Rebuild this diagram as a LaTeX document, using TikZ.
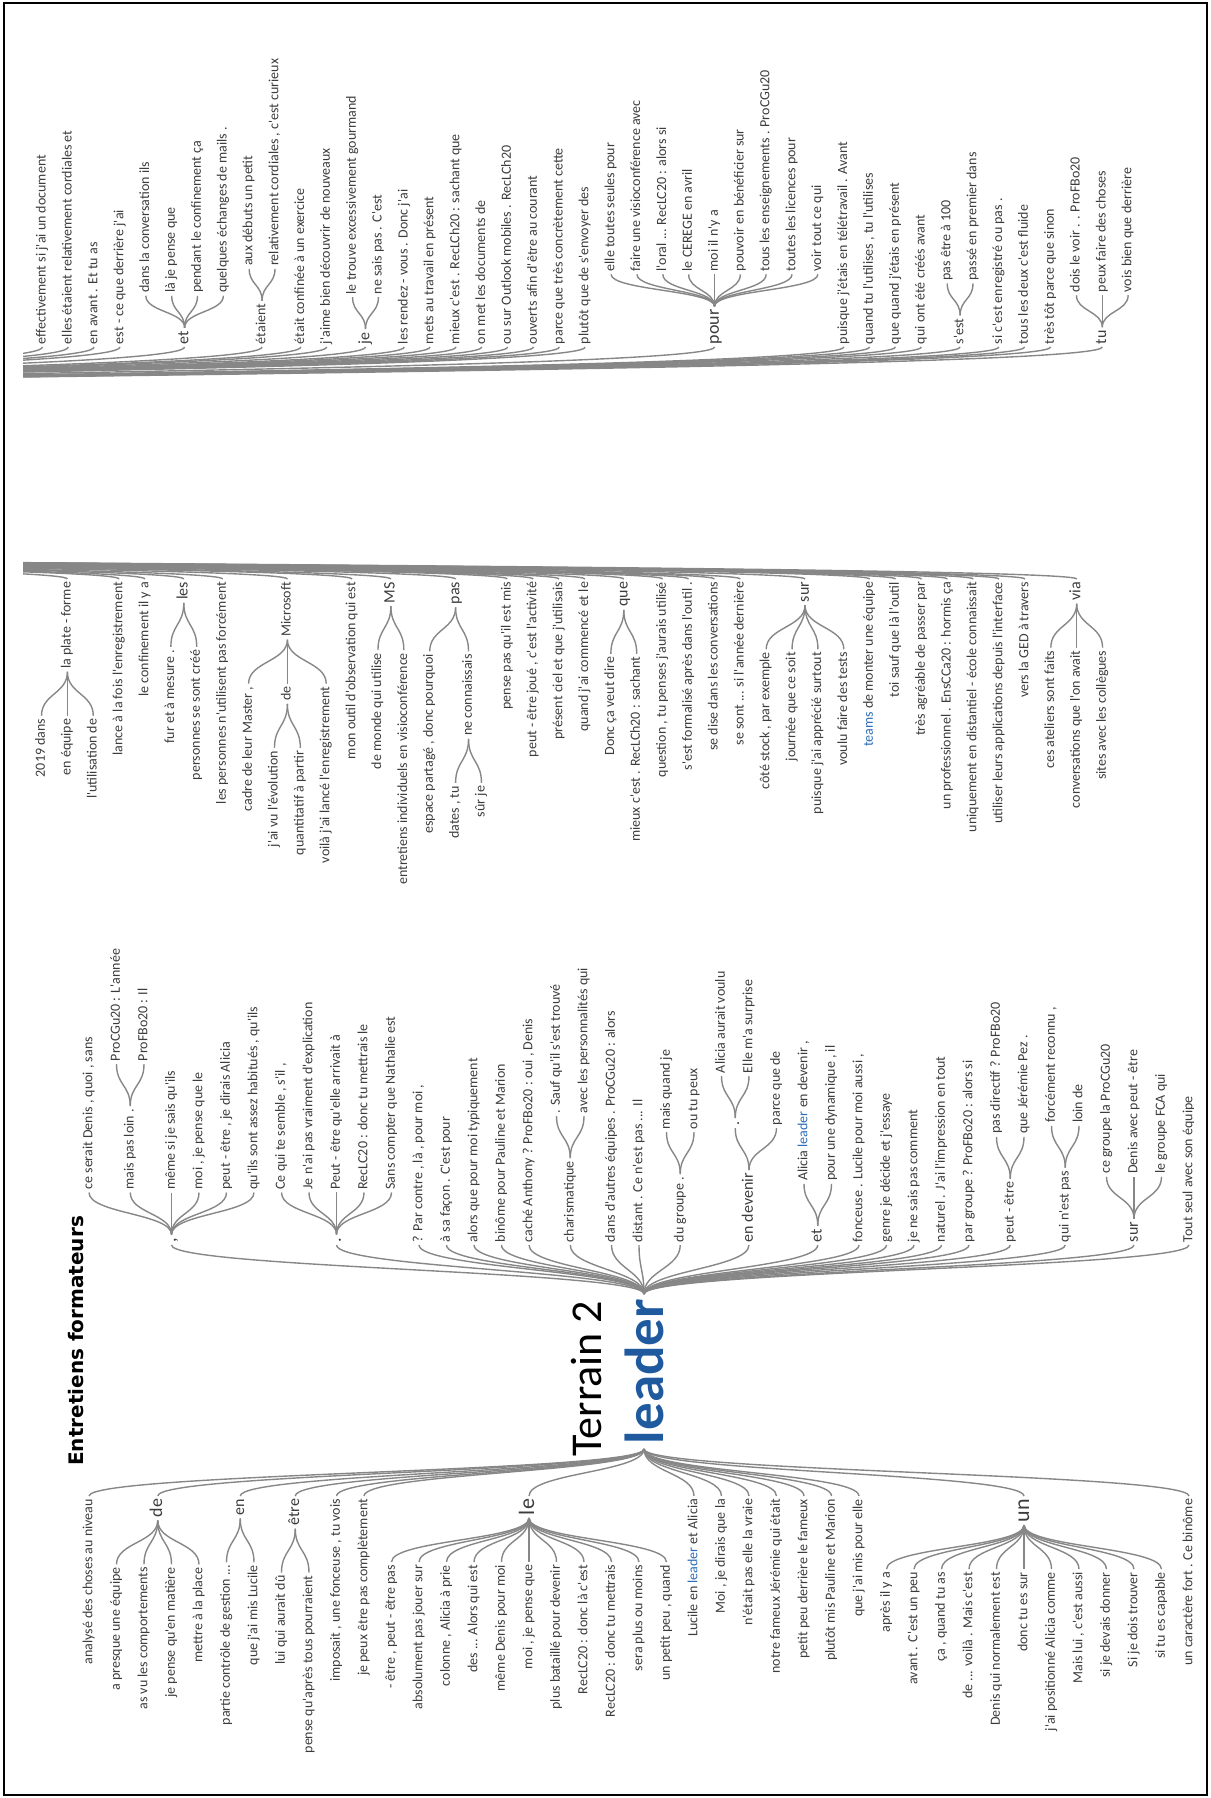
\documentclass[tikz,border=0pt]{standalone}
\usepackage{fontspec}
\setmainfont{Carlito}
\newfontfamily\lblf{Carlito}
\newfontfamily\ttlf{DejaVu Sans}
\definecolor{tgray}{RGB}{60,60,60}
\definecolor{lgray}{RGB}{135,135,135}
\definecolor{ldblue}{RGB}{31,90,158}
\definecolor{inblue}{RGB}{46,110,184}
\newcommand\bl[1]{\textcolor{inblue}{#1}}
\tikzset{
 lk/.style={draw=lgray, line width=1.4pt},
 lb/.style={rotate=90, inner sep=1pt, outer sep=2pt, text=tgray, font=\lblf\fontsize{14}{16}\selectfont, text height=9.5pt, text depth=3pt},
 lbm/.style={lb, font=\lblf\fontsize{16}{18}\selectfont, text height=11pt, text depth=3.5pt},
 lbb/.style={lb, font=\lblf\fontsize{18}{20}\selectfont, text height=12.5pt, text depth=4pt},
 lbx/.style={lb, font=\lblf\fontsize{22}{24}\selectfont, text height=15pt, text depth=5pt},
}
% child upward (right context): style, name, dx, parent, text
\newcommand\kidup[5]{\node[#1,anchor=west] (#2) at ([shift={(#3,-\kg)}]#4.east) {#5};
 \draw[lk] (#4.east) .. controls +(0,-\kh) and +(0,\kh) .. (#2.west);}
% child downward (left context)
\newcommand\kiddn[5]{\node[#1,anchor=east] (#2) at ([shift={(#3,\kg)}]#4.west) {#5};
 \draw[lk] (#4.west) .. controls +(0,\kh) and +(0,-\kh) .. (#2.east);}
% first level nodes of each column
\newcommand\cfour[4]{\node[#1,anchor=west] (#2) at (#3,347) {#4};
 \draw[lk] (RF) .. controls +(0,-31) and +(0,31) .. (#2.west);}
\newcommand\cthree[4]{\node[#1,anchor=east] (#2) at (#3,579) {#4};
 \draw[lk] (RT) .. controls +(0,17) and +(0,-17) .. (#2.east);}
\newcommand\ctwo[4]{\node[#1,anchor=west] (#2) at (#3,1245) {#4};
 \draw[lk] (L.east) .. controls +(0,-23) and +(0,23) .. (#2.west);}
\newcommand\cone[4]{\node[#1,anchor=east] (#2) at (#3,1496) {#4};
 \draw[lk] (L.west) .. controls +(0,23) and +(0,-23) .. (#2.east);}
\begin{document}
\begin{tikzpicture}[x=1pt,y=-1pt]
\useasboundingbox (0,0) rectangle (1210,1798);
\begin{scope}
\clip (23,5) rectangle (1193,1793);
\coordinate (RF) at (-1200,409);
\coordinate (RT) at (-1200,545);
% ================= column 4 (top) =================
\def\kg{32}\def\kh{16}
\cfour{lb}{d1}{42.4}{effectivement si j'ai un document}
\cfour{lb}{d2}{68.3}{elles étaient relativement cordiales et}
\cfour{lb}{d3}{94.1}{en avant . Et tu as}
\cfour{lb}{d4}{120}{est - ce que derrière j'ai}
\cfour{lbm}{det}{184.6}{et}
\kidup{lb}{det1}{-38.8}{det}{dans la conversation ils}
\kidup{lb}{det2}{-12.9}{det}{là je pense que}
\kidup{lb}{det3}{12.9}{det}{pendant le confinement ça}
\kidup{lb}{det4}{38.8}{det}{quelques échanges de mails .}
\cfour{lb}{detai}{262.1}{étaient}
\kidup{lb}{detai1}{-12.9}{detai}{aux débuts un petit}
\kidup{lb}{detai2}{12.9}{detai}{relativement cordiales , c'est curieux}
\cfour{lb}{d11}{300.9}{était confinée à un exercice}
\cfour{lb}{d12}{326.7}{j'aime bien découvrir de nouveaux}
\cfour{lbm}{dje}{365.5}{je}
\kidup{lb}{dje1}{-12.9}{dje}{le trouve excessivement gourmand}
\kidup{lb}{dje2}{12.9}{dje}{ne sais pas . C'est}
\cfour{lb}{d15}{404.3}{les rendez - vous . Donc j'ai}
\cfour{lb}{d16}{430.1}{mets au travail en présent}
\cfour{lb}{d17}{456}{mieux c'est . RecLCh20 : sachant que}
\cfour{lb}{d18}{481.8}{on met les documents de}
\cfour{lb}{d19}{507.7}{ou sur Outlook mobiles . RecLCh20}
\cfour{lb}{d20}{533.5}{ouverts afin d'être au courant}
\cfour{lb}{d21}{559.4}{parce que très concrètement cette}
\cfour{lb}{d22}{585.2}{plutôt que de s'envoyer des}
\cfour{lbb}{dpour}{714.5}{pour}
\kidup{lb}{dp1}{-103.4}{dpour}{elle toutes seules pour}
\kidup{lb}{dp2}{-77.55}{dpour}{faire une visioconférence avec}
\kidup{lb}{dp3}{-51.7}{dpour}{l'oral ... RecLC20 : alors si}
\kidup{lb}{dp4}{-25.85}{dpour}{le CEREGE en avril}
\kidup{lb}{dp5}{0}{dpour}{moi il n'y a}
\kidup{lb}{dp6}{25.85}{dpour}{pouvoir en bénéficier sur}
\kidup{lb}{dp7}{51.7}{dpour}{tous les enseignements . ProCGu20}
\kidup{lb}{dp8}{77.55}{dpour}{toutes les licences pour}
\kidup{lb}{dp9}{103.4}{dpour}{voir tout ce qui}
\cfour{lb}{d32}{843.8}{puisque j'étais en télétravail . Avant}
\cfour{lb}{d33}{869.7}{quand tu l'utilises , tu l'utilises}
\cfour{lb}{d34}{895.5}{que quand j'étais en présent}
\cfour{lb}{d35}{921.4}{qui ont été créés avant}
\cfour{lb}{dest}{960.1}{s'est}
\kidup{lb}{dest1}{-12.9}{dest}{pas être à 100}
\kidup{lb}{dest2}{12.9}{dest}{passé en premier dans}
\cfour{lb}{d38}{998.9}{si c'est enregistré ou pas .}
\cfour{lb}{d39}{1024.7}{tous les deux c'est fluide}
\cfour{lb}{d40}{1050.6}{très tôt parce que sinon}
\cfour{lbm}{dtu}{1102.3}{tu}
\kidup{lb}{dtu1}{-25.85}{dtu}{dois le voir . . ProFBo20}
\kidup{lb}{dtu2}{0}{dtu}{peux faire des choses}
\kidup{lb}{dtu3}{25.85}{dtu}{vois bien que derrière}
% ================= column 3 =================
\def\kg{44}\def\kh{22}
\cthree{lb}{cpf}{67.4}{la plate - forme}
\kiddn{lb}{cpf1}{-25.88}{cpf}{2019 dans}
\kiddn{lb}{cpf2}{0}{cpf}{en équipe}
\kiddn{lb}{cpf3}{25.88}{cpf}{l'utilisation de}
\cthree{lb}{c4}{119.1}{lance à la fois l'enregistrement}
\cthree{lb}{c5}{145}{le confinement il y a}
\cthree{lbm}{cles}{183.8}{les}
\kiddn{lb}{cles1}{-12.94}{cles}{fur et à mesure .}
\kiddn{lb}{cles2}{12.94}{cles}{personnes se sont créé}
\cthree{lb}{c8}{222.7}{les personnes n'utilisent pas forcément}
\cthree{lb}{cms}{287.4}{Microsoft}
\kiddn{lb}{cms1}{-38.82}{cms}{cadre de leur Master ,}
\kiddn{lb}{cde}{0}{cms}{de}
\kiddn{lb}{cde1}{-12.94}{cde}{j'ai vu l'évolution}
\kiddn{lb}{cde2}{12.94}{cde}{quantitatif à partir}
\kiddn{lb}{cms3}{38.82}{cms}{voilà j'ai lancé l'enregistrement}
\cthree{lb}{c13}{352.1}{mon outil d'observation qui est}
\cthree{lbm}{cMS}{390.9}{MS}
\kiddn{lb}{cMS1}{-12.94}{cMS}{de monde qui utilise}
\kiddn{lb}{cMS2}{12.94}{cMS}{entretiens individuels en visioconférence}
\cthree{lbm}{cpas}{455.6}{pas}
\kiddn{lb}{cpas1}{-25.88}{cpas}{espace partagé , donc pourquoi}
\kiddn{lb}{cnc}{12.94}{cpas}{ne connaissais}
\kiddn{lb}{cnc1}{-12.94}{cnc}{dates , tu}
\kiddn{lb}{cnc2}{12.94}{cnc}{sûr je}
\cthree{lb}{c19}{507.3}{pense pas qu'il est mis}
\cthree{lb}{c20}{533.2}{peut - être joué , c'est l'activité}
\cthree{lb}{c21}{559.1}{présent ciel et que j'utilisais}
\cthree{lb}{c22}{584.9}{quand j'ai commencé et le}
\cthree{lbm}{cque}{623.8}{que}
\kiddn{lb}{cque1}{-12.94}{cque}{Donc ça veut dire}
\kiddn{lb}{cque2}{12.94}{cque}{mieux c'est . RecLCh20 : sachant}
\cthree{lb}{c25}{662.6}{question , tu penses j'aurais utilisé}
\cthree{lb}{c26}{688.5}{s'est formalisé après dans l'outil .}
\cthree{lb}{c27}{714.4}{se dise dans les conversations}
\cthree{lb}{c28}{740.3}{se sont ... si l'année dernière}
\cthree{lbm}{csur}{805}{sur}
\kiddn{lb}{csur1}{-38.82}{csur}{côté stock , par exemple}
\kiddn{lb}{csur2}{-12.94}{csur}{journée que ce soit}
\kiddn{lb}{csur3}{12.94}{csur}{puisque j'ai apprécié surtout}
\kiddn{lb}{csur4}{38.82}{csur}{voulu faire des tests}
\cthree{lb}{c33}{869.7}{\bl{teams} de monter une équipe}
\cthree{lb}{c34}{895.6}{toi sauf que là l'outil}
\cthree{lb}{c35}{921.5}{très agréable de passer par}
\cthree{lb}{c36}{947.4}{un professionnel . EnsCCa20 : hormis ça}
\cthree{lb}{c37}{973.2}{uniquement en distantiel - école connaissait}
\cthree{lb}{c38}{999.1}{utiliser leurs applications depuis l'interface}
\cthree{lb}{c39}{1025}{vers la GED à travers}
\cthree{lbm}{cvia}{1076.7}{via}
\kiddn{lb}{cvia1}{-25.88}{cvia}{ces ateliers sont faits}
\kiddn{lb}{cvia2}{0}{cvia}{conversations que l'on avait}
\kiddn{lb}{cvia3}{25.88}{cvia}{sites avec les collègues}
% ================= leader =================
\node[rotate=90, inner sep=2pt, outer sep=3pt, text=ldblue, font=\lblf\bfseries\fontsize{55}{60}\selectfont] (L) at (644,1371.5) {leader};
\node[rotate=90, anchor=west, inner sep=0pt, text=black, font=\lblf\fontsize{44}{48}\selectfont] (T2) at (587,1457) {Terrain 2};
\node[rotate=90, anchor=west, inner sep=0pt, text=black, font=\ttlf\bfseries\fontsize{20}{22}\selectfont] (ttl) at (76,1466) {Entretiens formateurs};
% ================= column 2 =================
\def\kg{42}\def\kh{21}
\ctwo{lbb}{bc}{171.5}{,}
\kidup{lb}{bc1}{-82.5}{bc}{ce serait Denis , quoi , sans}
\kidup{lb}{bmpl}{-41.25}{bc}{mais pas loin .}
\kidup{lb}{bmpl1}{-13.75}{bmpl}{ProCGu20 : L'année}
\kidup{lb}{bmpl2}{13.75}{bmpl}{ProFBo20 : Il}
\kidup{lb}{bc3}{0}{bc}{même si je sais qu'ils}
\kidup{lb}{bc4}{27.5}{bc}{moi , je pense que le}
\kidup{lb}{bc5}{55}{bc}{peut - être , je dirais Alicia}
\kidup{lb}{bc6}{82.5}{bc}{qu'ils sont assez habitués , qu'ils}
\ctwo{lbb}{bp}{336.5}{.}
\kidup{lb}{bp1}{-55}{bp}{Ce qui te semble , s'il ,}
\kidup{lb}{bp2}{-27.5}{bp}{Je n'ai pas vraiment d'explication}
\kidup{lb}{bp3}{0}{bp}{Peut - être qu'elle arrivait à}
\kidup{lb}{bp4}{27.5}{bp}{RecLC20 : donc tu mettrais le}
\kidup{lb}{bp5}{55}{bp}{Sans compter que Nathalie est}
\ctwo{lb}{b13}{419}{? Par contre , là , pour moi ,}
\ctwo{lb}{b14}{446.5}{à sa façon . C'est pour}
\ctwo{lb}{b15}{474}{alors que pour moi typiquement}
\ctwo{lb}{b16}{501.5}{binôme pour Pauline et Marion}
\ctwo{lb}{b17}{529}{caché Anthony ? ProFBo20 : oui , Denis}
\ctwo{lb}{bch}{570.25}{charismatique}
\kidup{lb}{bch1}{-13.75}{bch}{. Sauf qu'il s'est trouvé}
\kidup{lb}{bch2}{13.75}{bch}{avec les personnalités qui}
\ctwo{lb}{b20}{611.5}{dans d'autres équipes . ProCGu20 : alors}
\ctwo{lb}{b21}{639}{distant . Ce n'est pas ... Il}
\ctwo{lb}{bdg}{680.25}{du groupe .}
\kidup{lb}{bdg1}{-13.75}{bdg}{mais quand je}
\kidup{lb}{bdg2}{13.75}{bdg}{ou tu peux}
\ctwo{lbm}{bed}{749}{en devenir}
\kidup{lbm}{bedp}{-13.75}{bed}{.}
\kidup{lb}{bedp1}{-13.75}{bedp}{Alicia aurait voulu}
\kidup{lb}{bedp2}{13.75}{bedp}{Elle m'a surprise}
\kidup{lb}{bed2}{27.5}{bed}{parce que de}
\ctwo{lbm}{bet}{817.75}{et}
\kidup{lb}{bet1}{-13.75}{bet}{Alicia \bl{leader} en devenir ,}
\kidup{lb}{bet2}{13.75}{bet}{pour une dynamique , il}
\ctwo{lb}{b29}{859}{fonceuse . Lucile pour moi aussi ,}
\ctwo{lb}{b30}{886.5}{genre je décide et j'essaye}
\ctwo{lb}{b31}{914}{je ne sais pas comment}
\ctwo{lb}{b32}{941.5}{naturel . J'ai l'impression en tout}
\ctwo{lb}{b33}{969}{par groupe ? ProFBo20 : alors si}
\ctwo{lb}{bpe}{1010.25}{peut - être}
\kidup{lb}{bpe1}{-13.75}{bpe}{pas directif ? ProFBo20}
\kidup{lb}{bpe2}{13.75}{bpe}{que Jérémie Pez .}
\ctwo{lb}{bqn}{1065.25}{qui n'est pas}
\kidup{lb}{bqn1}{-13.75}{bqn}{forcément reconnu ,}
\kidup{lb}{bqn2}{13.75}{bqn}{loin de}
\ctwo{lbm}{bsur}{1134}{sur}
\kidup{lb}{bsur1}{-27.5}{bsur}{ce groupe la ProCGu20}
\kidup{lb}{bsur2}{0}{bsur}{Denis avec peut - être}
\kidup{lb}{bsur3}{27.5}{bsur}{le groupe FCA qui}
\ctwo{lb}{b41}{1189}{Tout seul avec son équipe}
% ================= column 1 =================
\def\kg{44}\def\kh{22}
\cone{lb}{a1}{89}{analysé des choses au niveau}
\cone{lbb}{ade}{157.75}{de}
\kiddn{lb}{ade1}{-41.25}{ade}{a presque une équipe}
\kiddn{lb}{ade2}{-13.75}{ade}{as vu les comportements}
\kiddn{lb}{ade3}{13.75}{ade}{je pense qu'en matière}
\kiddn{lb}{ade4}{41.25}{ade}{mettre à la place}
\cone{lbm}{aen}{240.25}{en}
\kiddn{lb}{aen1}{-13.75}{aen}{partie contrôle de gestion ...}
\kiddn{lb}{aen2}{13.75}{aen}{que j'ai mis Lucile}
\cone{lbm}{aet}{295.25}{être}
\kiddn{lb}{aet1}{-13.75}{aet}{lui qui aurait dû}
\kiddn{lb}{aet2}{13.75}{aet}{pense qu'après tous pourraient}
\cone{lb}{a10}{336.5}{imposait , une fonceuse , tu vois}
\cone{lb}{a11}{364}{je peux être pas complètement}
\cone{lbx}{ale}{529}{le}
\kiddn{lb}{ale1}{-137.5}{ale}{- être , peut - être pas}
\kiddn{lb}{ale2}{-110}{ale}{absolument pas jouer sur}
\kiddn{lb}{ale3}{-82.5}{ale}{colonne , Alicia à prie}
\kiddn{lb}{ale4}{-55}{ale}{des ... Alors qui est}
\kiddn{lb}{ale5}{-27.5}{ale}{même Denis pour moi}
\kiddn{lb}{ale6}{0}{ale}{moi , je pense que}
\kiddn{lb}{ale7}{27.5}{ale}{plus bataillé pour devenir}
\kiddn{lb}{ale8}{55}{ale}{RecLC20 : donc là c'est}
\kiddn{lb}{ale9}{82.5}{ale}{RecLC20 : donc tu mettrais}
\kiddn{lb}{ale10}{110}{ale}{sera plus ou moins}
\kiddn{lb}{ale11}{137.5}{ale}{un petit peu , quand}
\cone{lb}{a23}{694}{Lucile en \bl{leader} et Alicia}
\cone{lb}{a24}{721.5}{Moi , je dirais que la}
\cone{lb}{a25}{749}{n'était pas elle la vraie}
\cone{lb}{a26}{776.5}{notre fameux Jérémie qui était}
\cone{lb}{a27}{804}{petit peu derrière le fameux}
\cone{lb}{a28}{831.5}{plutôt mis Pauline et Marion}
\cone{lb}{a29}{859}{que j'ai mis pour elle}
\cone{lbx}{aun}{1024}{un}
\kiddn{lb}{aun1}{-137.5}{aun}{après il y a}
\kiddn{lb}{aun2}{-110}{aun}{avant . C'est un peu}
\kiddn{lb}{aun3}{-82.5}{aun}{ça , quand tu as}
\kiddn{lb}{aun4}{-55}{aun}{de ... voilà . Mais c'est}
\kiddn{lb}{aun5}{-27.5}{aun}{Denis qui normalement est}
\kiddn{lb}{aun6}{0}{aun}{donc tu es sur}
\kiddn{lb}{aun7}{27.5}{aun}{j'ai positionné Alicia comme}
\kiddn{lb}{aun8}{55}{aun}{Mais lui , c'est aussi}
\kiddn{lb}{aun9}{82.5}{aun}{si je devais donner}
\kiddn{lb}{aun10}{110}{aun}{Si je dois trouver}
\kiddn{lb}{aun11}{137.5}{aun}{si tu es capable}
\cone{lb}{a41}{1189}{un caractère fort . Ce binôme}
\end{scope}
\draw[line width=2pt] (4,3) rectangle (1207,1795);
\end{tikzpicture}
\end{document}
